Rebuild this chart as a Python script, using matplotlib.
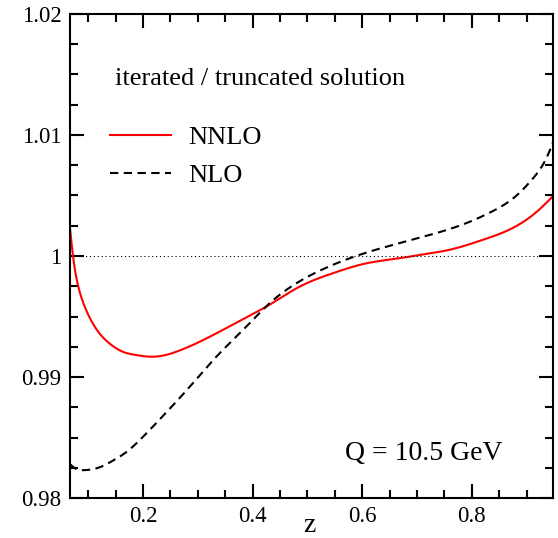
import matplotlib
matplotlib.use("Agg")
import matplotlib.pyplot as plt
import numpy as np
from matplotlib.ticker import MultipleLocator

plt.rcParams['font.family'] = ['Liberation Serif', 'DejaVu Serif']

# NNLO curve (ratio iterated / truncated)
z_nnlo = [0.067, 0.0722, 0.0782, 0.0873, 0.0964, 0.1085, 0.1206, 0.1388, 0.163, 0.187,
          0.2115, 0.2418, 0.261, 0.334, 0.394, 0.425, 0.4855, 0.546, 0.607, 0.667,
          0.704, 0.758, 0.819, 0.879, 0.922, 0.948]
r_nnlo = [1.00229, 1.00010, 0.99829, 0.99664, 0.99554, 0.99443, 0.99361, 0.99278, 0.99209, 0.99182,
          0.99168, 0.99182, 0.99209, 0.99361, 0.99505, 0.99581, 0.99746, 0.99857, 0.99939, 0.99981,
          1.00008, 1.00050, 1.00132, 1.00242, 1.00380, 1.00495]

# NLO curve
z_nlo = [0.067, 0.078, 0.090, 0.1206, 0.145, 0.169, 0.200, 0.237, 0.2855, 0.334,
         0.3824, 0.431, 0.480, 0.546, 0.594, 0.667, 0.728, 0.789, 0.836, 0.879,
         0.909, 0.940, 0.948]
r_nlo = [0.98280, 0.98240, 0.98230, 0.98253, 0.98308, 0.98377, 0.98505, 0.98680, 0.98920, 0.99168,
         0.99388, 0.99609, 0.99775, 0.99926, 1.00008, 1.00105, 1.00180, 1.00270, 1.00366, 1.00490,
         1.00628, 1.00849, 1.00940]

fig = plt.figure(figsize=(5.58, 5.38), dpi=100)
ax = fig.add_axes([70/558, 1 - 498/538, (553 - 70)/558, (498 - 14)/538])


def spline(x, y, n=500):
    """Natural cubic spline through the read points."""
    x = np.asarray(x, float); y = np.asarray(y, float)
    N = len(x); h = np.diff(x)
    A = np.zeros((N, N)); b = np.zeros(N)
    A[0, 0] = A[-1, -1] = 1.0
    for i in range(1, N - 1):
        A[i, i-1] = h[i-1]; A[i, i] = 2*(h[i-1] + h[i]); A[i, i+1] = h[i]
        b[i] = 6*((y[i+1] - y[i])/h[i] - (y[i] - y[i-1])/h[i-1])
    M = np.linalg.solve(A, b)
    xs = np.linspace(x[0], x[-1], n)
    k = np.clip(np.searchsorted(x, xs) - 1, 0, N - 2)
    t1 = x[k+1] - xs; t0 = xs - x[k]; hk = h[k]
    ys = (M[k]*t1**3 + M[k+1]*t0**3)/(6*hk) + (y[k]/hk - M[k]*hk/6)*t1 + (y[k+1]/hk - M[k+1]*hk/6)*t0
    return xs, ys


xs, ys = spline(z_nnlo, r_nnlo)
ax.plot(xs, ys, color='#ff0000', lw=1.5, label='NNLO')
xs, ys = spline(z_nlo, r_nlo)
ax.plot(xs, ys, color='black', lw=1.5, ls=(0, (4, 2.6)), label='NLO')
ax.axhline(1.0, color='black', lw=0.8, ls=(0, (1, 2.5)))

ax.set_xlim(0.067, 0.948)
ax.set_ylim(0.98, 1.02)
ax.xaxis.set_minor_locator(MultipleLocator(0.05))
ax.yaxis.set_minor_locator(MultipleLocator(0.0025))
ax.set_xticks([0.2, 0.4, 0.6, 0.8])
ax.set_xticklabels(['0.2', '0.4', '0.6', '0.8'])
ax.set_yticks([0.98, 0.99, 1.0, 1.01, 1.02])
ax.set_yticklabels(['0.98', '0.99', '1', '1.01', '1.02'])
ax.tick_params(which='both', direction='in', top=True, right=True, labelsize=16.5, width=1.5)
ax.tick_params(which='major', length=10, pad=6)
ax.tick_params(which='minor', length=5.5)
for s in ax.spines.values():
    s.set_linewidth(1.5)

ax.set_xlabel('z', fontsize=20)
ax.xaxis.set_label_coords((309 - 70)/483, -(526 - 498)/484)
ax.xaxis.label.set_va('center')

ax.legend(loc='upper left', bbox_to_anchor=(0.083, 0.769), frameon=False,
          borderpad=0, borderaxespad=0,
          fontsize=19, handlelength=2.3, handletextpad=0.65, labelspacing=0.55)
ax.text(0.093, 0.866, 'iterated / truncated solution', transform=ax.transAxes,
        fontsize=19, va='center', ha='left')
ax.text(0.733, 0.091, 'Q = 10.5 GeV', transform=ax.transAxes,
        fontsize=20, va='center', ha='center')

fig.savefig('out.png', dpi=100)
